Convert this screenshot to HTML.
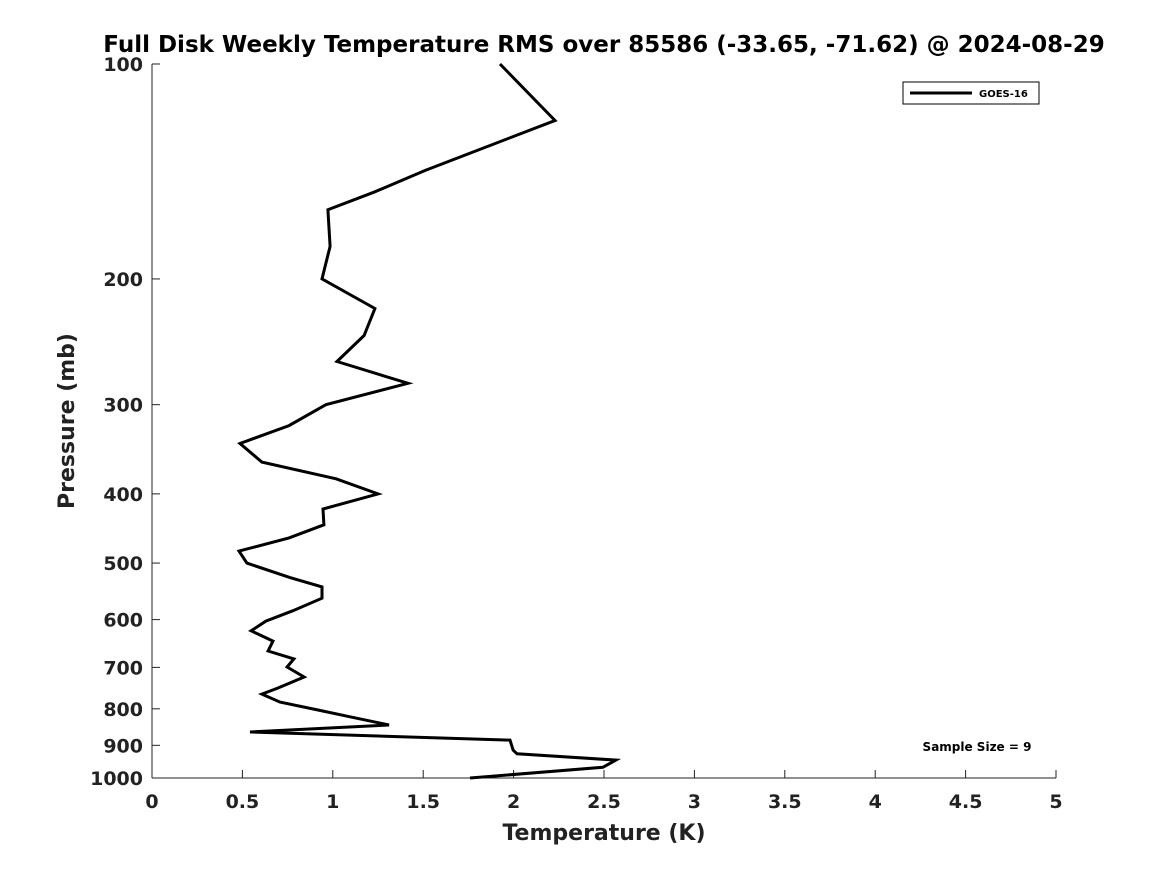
<!DOCTYPE html>
<html><head><meta charset="utf-8"><style>
body{margin:0;background:#fff;}
svg text{font-family:"DejaVu Sans","Liberation Sans",sans-serif;font-weight:bold;fill:#222;}
</style></head><body>
<svg id="chart" width="1167" height="875" viewBox="0 0 1167 875" xmlns="http://www.w3.org/2000/svg">
<rect width="1167" height="875" fill="#fff"/>
<text x="604" y="52" text-anchor="middle" font-size="23" style="fill:#000">Full Disk Weekly Temperature RMS over 85586 (-33.65, -71.62) @ 2024-08-29</text>
<g id="axes"></g>
<g id="series"></g>
<g>
<rect x="903" y="82" width="136" height="22" fill="#fff" stroke="#000" stroke-width="1"/>
<line x1="910" y1="93" x2="972" y2="93" stroke="#000" stroke-width="3"/>
<text x="979" y="97" font-size="10" style="fill:#000">GOES-16</text>
</g>
<text x="977" y="751" text-anchor="middle" font-size="12" style="fill:#000">Sample Size = 9</text>
<text x="604" y="840" text-anchor="middle" font-size="22">Temperature (K)</text>
<text transform="translate(74,421) rotate(-90)" text-anchor="middle" font-size="22">Pressure (mb)</text>
</svg>
<script>
const temps=[1.925,2.229,1.51,1.233,0.973,0.985,0.94,1.233,1.173,1.023,1.416,0.962,0.758,0.487,0.608,1.018,1.25,0.946,0.951,0.758,0.481,0.525,0.763,0.94,0.94,0.78,0.63,0.548,0.669,0.642,0.785,0.747,0.841,0.697,0.608,0.708,0.918,1.095,1.311,0.542,1.98,1.997,2.019,2.566,2.494,1.759];
const pressures=[100,120,141,151,160,180,200,220,240,261,280,300,321,340,361,381,400,420,442,461,481,500,524,540,560,583,603,622,643,664,681,699,722,748,763,783,803,821,843,862,885,914,925,944,966,1000];
const xTicks=[0,0.5,1,1.5,2,2.5,3,3.5,4,4.5,5];
const yTicks=[100,200,300,400,500,600,700,800,900,1000];
const NS="http://www.w3.org/2000/svg";
const x=v=>152+v*(1056-152)/5;
const y=p=>64+(Math.log10(p)-2)*714;
function mk(t,a,parent){const e=document.createElementNS(NS,t);for(const k in a)e.setAttribute(k,a[k]);parent.appendChild(e);return e;}
const ax=document.getElementById('axes');
let l=mk('line',{x1:152,y1:64,x2:152,y2:778,stroke:'#222','stroke-width':1},ax);


l=mk('line',{x1:152,y1:778,x2:1056,y2:778,stroke:'#222','stroke-width':1},ax);


xTicks.forEach(v=>{
 const t=mk('line',{x1:x(v),y1:778,x2:x(v),y2:770,stroke:'#222'},ax);
 
 
 const tx=mk('text',{x:x(v),y:808,'text-anchor':'middle','font-size':19},ax);
 tx.textContent=String(v);
 
 
});
yTicks.forEach(p=>{
 const t=mk('line',{x1:152,y1:y(p),x2:160,y2:y(p),stroke:'#222'},ax);
 
 
 const tx=mk('text',{x:143,y:y(p)+7,'text-anchor':'end','font-size':19},ax);
 tx.textContent=String(p);
 
 
});
const pts=temps.map((t,i)=>x(t).toFixed(1)+','+y(pressures[i]).toFixed(1)).join(' ');
const pl=mk('polyline',{points:pts,fill:'none',stroke:'#000','stroke-width':3,'stroke-linejoin':'miter'},document.getElementById('series'));


</script>
</body></html>
